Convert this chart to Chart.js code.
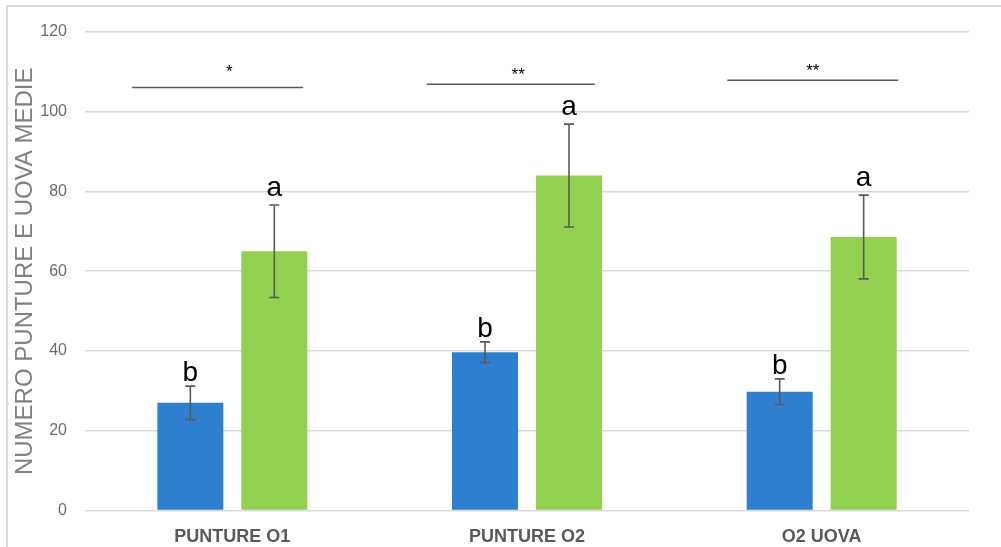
<!DOCTYPE html>
<html>
<head>
<meta charset="utf-8">
<script src="https://cdn.jsdelivr.net/npm/chart.js@4.4.1/dist/chart.umd.min.js"></script>
<style>
  html, body { margin: 0; padding: 0; background: #fff; }
  #wrap { position: relative; width: 1001px; height: 547px; }
  #frame { position: absolute; left: 6px; top: 5px; right: -2px; bottom: -2px;
           border-top: 2px solid #d9d9d9; border-left: 2px solid #d9d9d9; pointer-events: none; }
</style>
</head>
<body>
<div id="wrap">
  <canvas id="myChart" width="1001" height="547"></canvas>
  <div id="frame"></div>
</div>
<script>
// categories and series
const categories = ['PUNTURE O1', 'PUNTURE O2', 'O2 UOVA'];
const blue_values = [27, 39.7, 29.8];
const blue_err = [4.2, 2.6, 3.2];
const green_values = [65, 84, 68.6];
const green_err = [11.6, 12.9, 10.5];
const blue_letters = ['b', 'b', 'b'];
const green_letters = ['a', 'a', 'a'];

// significance brackets over each group (x as offset from category index)
const sig_labels = ['*', '**', '**'];
const sig_y = [106.1, 106.9, 107.9];
const sig_from = [-0.34, -0.34, -0.32];
const sig_to = [0.24, 0.23, 0.26];
const sig_text_x = [-0.01, -0.03, -0.03];
const sig_text_y = [110.9, 110.1, 111.1];

const y_ticks = [0, 20, 40, 60, 80, 100, 120];

const errColor = '#595959';

/** error bars + letters above each bar */
const errorBars = {
    id: 'errorBars',
    afterDatasetsDraw(chart) {
        const ctx = chart.ctx;
        const y = chart.scales.y;
        const errs = [blue_err, green_err];
        const letters = [blue_letters, green_letters];
        ctx.save();
        chart.data.datasets.forEach((ds, di) => {
            const meta = chart.getDatasetMeta(di);
            meta.data.forEach((bar, i) => {
                const v = ds.data[i];
                const top = y.getPixelForValue(v + errs[di][i]);
                const bot = y.getPixelForValue(v - errs[di][i]);
                ctx.strokeStyle = errColor;
                ctx.lineWidth = 1.6;
                ctx.beginPath();
                ctx.moveTo(bar.x, top);
                ctx.lineTo(bar.x, bot);
                ctx.moveTo(bar.x - 5, top);
                ctx.lineTo(bar.x + 5, top);
                ctx.moveTo(bar.x - 5, bot);
                ctx.lineTo(bar.x + 5, bot);
                ctx.stroke();
                ctx.fillStyle = '#000';
                ctx.font = '28px "Liberation Sans", Arial, sans-serif';
                ctx.textAlign = 'center';
                ctx.textBaseline = 'alphabetic';
                ctx.fillText(letters[di][i], bar.x, top - (di ? 9 : 5));
            });
        });
        ctx.restore();
    }
};

/** horizontal lines with stars between the two bars of a group */
const sigLines = {
    id: 'sigLines',
    afterDraw(chart) {
        const ctx = chart.ctx;
        const x = chart.scales.x;
        const y = chart.scales.y;
        ctx.save();
        categories.forEach((c, i) => {
            const yy = y.getPixelForValue(sig_y[i]);
            ctx.strokeStyle = '#595959';
            ctx.lineWidth = 1.5;
            ctx.beginPath();
            ctx.moveTo(x.getPixelForValue(i + sig_from[i]), yy);
            ctx.lineTo(x.getPixelForValue(i + sig_to[i]), yy);
            ctx.stroke();
            ctx.fillStyle = '#000';
            ctx.font = '17px "Liberation Sans", Arial, sans-serif';
            ctx.textAlign = 'center';
            ctx.textBaseline = 'middle';
            ctx.fillText(sig_labels[i], x.getPixelForValue(i + sig_text_x[i]), y.getPixelForValue(sig_text_y[i]) + 4);
        });
        ctx.restore();
    }
};

function bar_set(label, data, color) {
    return {
        label: label,
        data: data,
        backgroundColor: color,
        borderWidth: 0,
        categoryPercentage: 0.57,
        barPercentage: 0.786
    };
}

const ctx = document.getElementById('myChart').getContext('2d');
const myChart = new Chart(ctx, {
    type: 'bar',
    data: {
        labels: categories,
        datasets: [
            bar_set('blu', blue_values, '#2e7fd0'),
            bar_set('verde', green_values, '#92d050')
        ]
    },
    options: {
        responsive: false,
        animation: false,
        layout: { padding: { left: 8, right: 32, top: 32, bottom: 0 } },
        plugins: {
            legend: { display: false },
            tooltip: { enabled: false }
        },
        scales: {
            x: {
                grid: { display: false, drawTicks: false },
                border: { display: false },
                ticks: {
                    color: '#595959',
                    padding: 16,
                    font: { family: '"Liberation Sans", Arial, sans-serif', size: 18, weight: 'bold' }
                },
                afterFit(scale) { scale.height = 36.5; }
            },
            y: {
                min: 0,
                max: 120,
                afterBuildTicks(scale) { scale.ticks = y_ticks.map(v => ({ value: v })); },
                grid: { color: '#d9d9d9', lineWidth: 1.6, drawTicks: false },
                border: { display: false },
                ticks: {
                    color: '#6b6b6b',
                    padding: 18,
                    font: { family: '"Liberation Sans", Arial, sans-serif', size: 16 }
                },
                title: {
                    display: true,
                    text: 'NUMERO PUNTURE E UOVA MEDIE',
                    color: '#808080',
                    padding: { top: 3, bottom: 0 },
                    font: { family: '"Liberation Sans", Arial, sans-serif', size: 24 }
                },
                afterFit(scale) { scale.width = 77; }
            }
        }
    },
    plugins: [errorBars, sigLines]
});
</script>
</body>
</html>
